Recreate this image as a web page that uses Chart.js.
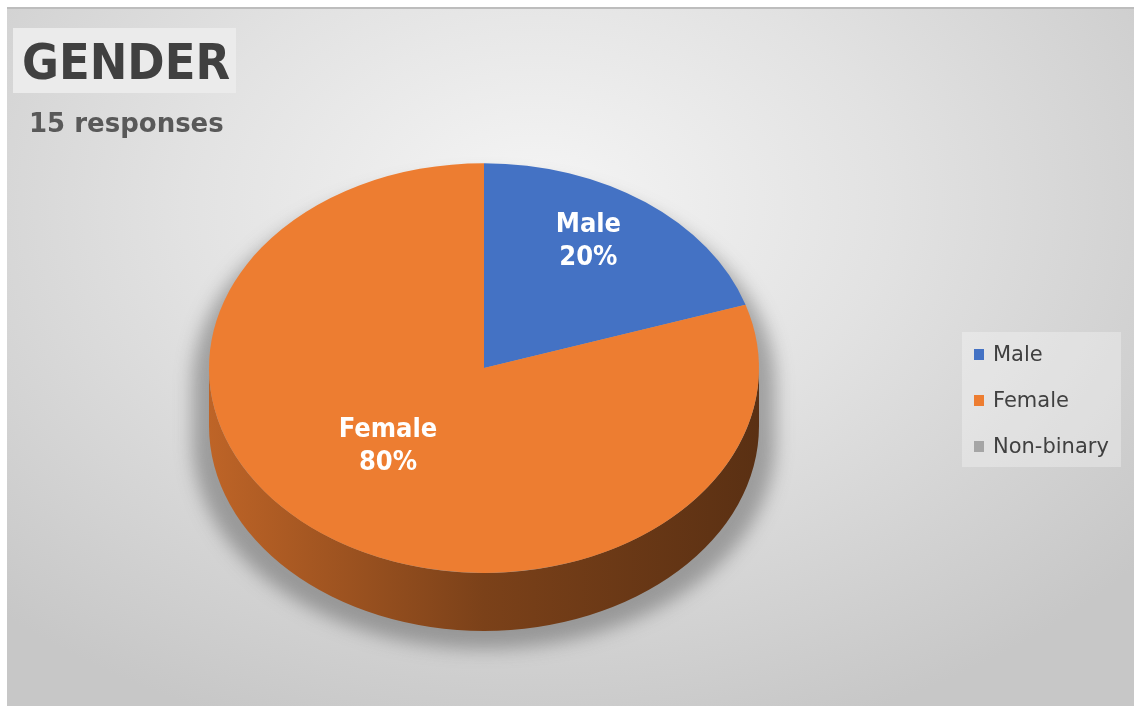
<!DOCTYPE html>
<html>
<head>
<meta charset="utf-8">
<title>Gender</title>
<script src="https://cdn.jsdelivr.net/npm/chart.js@4.4.1/dist/chart.umd.min.js"></script>
<style>
  html, body { margin: 0; padding: 0; background: #fff; }
  body { width: 1134px; height: 707px; position: relative; overflow: hidden; font-family: "DejaVu Sans", sans-serif; }
  .panel {
    position: absolute; left: 7px; top: 7px; width: 1127px; height: 699px;
    box-sizing: border-box; border-top: 2px solid #bdbdbd;
    background: radial-gradient(ellipse 70% 80% at 47% 28%, #f5f5f5 0%, #e2e2e2 45%, #c7c7c7 100%);
  }
  #pie { position: absolute; left: 0; top: 0; }
  .title-box {
    position: absolute; left: 13px; top: 28px; width: 223px; height: 65px;
    background: #ebebeb;
  }
  .title {
    position: absolute; left: 22px; top: 30px; line-height: 65px;
    font-family: "DejaVu Sans Condensed", "DejaVu Sans", sans-serif; font-stretch: condensed;
    font-weight: bold; font-size: 50px; color: #404040; white-space: nowrap;
  }
  .subtitle {
    position: absolute; left: 29px; top: 105px; line-height: 36px;
    font-weight: bold; font-size: 26px; color: #595959; white-space: nowrap;
  }
  .legend {
    position: absolute; left: 962px; top: 332px; width: 159px; height: 135px;
    background: rgba(255, 255, 255, 0.3); box-sizing: border-box; padding-top: 1px;
  }
  .legend-item { position: relative; height: 46px; line-height: 46px; font-size: 21px; color: #404040; white-space: nowrap; }
  .legend-item span { position: absolute; left: 12px; top: 16px; width: 10px; height: 11px; }
  .legend-item b { position: absolute; left: 31px; top: -2px; font-weight: normal; }
</style>
</head>
<body>
<div class="panel"></div>
<canvas id="pie" width="1134" height="707"></canvas>
<div class="title-box"></div>
<div class="title">GENDER</div>
<div class="subtitle">15 responses</div>
<div class="legend" id="legend"></div>

<script>
// survey answers
const labels = ['Male', 'Female', 'Non-binary'];
const counts = [3, 12, 0];
const colors = ['#4472C4', '#ED7D31', '#A5A5A5'];

const TILT = 0.745;   // vertical squash of the pie face
const DEPTH = 58;     // thickness of the pie body

const total = counts.reduce((a, b) => a + b, 0);

function shade(hex, f) {
  const n = parseInt(hex.slice(1), 16);
  const r = Math.round(((n >> 16) & 255) * f);
  const g = Math.round(((n >> 8) & 255) * f);
  const b = Math.round((n & 255) * f);
  return `rgb(${r}, ${g}, ${b})`;
}

// outline of the whole body: top half of the face + front of the bottom rim
function bodyPath(ctx, cx, cy, rx, ry) {
  ctx.beginPath();
  ctx.ellipse(cx, cy, rx, ry, 0, Math.PI, Math.PI * 2);
  ctx.lineTo(cx + rx, cy + DEPTH);
  ctx.ellipse(cx, cy + DEPTH, rx, ry, 0, 0, Math.PI);
  ctx.closePath();
}

const pie3d = {
  id: 'pie3d',
  beforeDatasetsDraw(chart) {
    const ctx = chart.ctx;
    const arcs = chart.getDatasetMeta(0).data;
    const cx = arcs[0].x, cy = arcs[0].y, r = arcs[0].outerRadius;
    const ry = r * TILT;

    // soft drop shadow
    ctx.save();
    ctx.filter = 'blur(9px)';
    ctx.fillStyle = 'rgba(70, 70, 70, 0.42)';
    bodyPath(ctx, cx, cy + 16, r * 1.06, ry * 1.01);
    ctx.fill();
    ctx.restore();

    // front walls, one piece per slice that faces the viewer
    arcs.forEach((arc, i) => {
      if (!counts[i]) return;
      [[0, Math.PI], [Math.PI * 2, Math.PI * 3]].forEach(([lo, hi]) => {
        const a0 = Math.max(arc.startAngle, lo);
        const a1 = Math.min(arc.endAngle, hi);
        if (a1 <= a0) return;
        const g = ctx.createLinearGradient(cx - r, 0, cx + r, 0);
        g.addColorStop(0, shade(colors[i], 0.80));
        g.addColorStop(0.5, shade(colors[i], 0.52));
        g.addColorStop(1, shade(colors[i], 0.38));
        ctx.beginPath();
        ctx.ellipse(cx, cy, r, ry, 0, a0, a1);
        ctx.lineTo(cx + Math.cos(a1) * r, cy + DEPTH + Math.sin(a1) * ry);
        ctx.ellipse(cx, cy + DEPTH, r, ry, 0, a1, a0, true);
        ctx.closePath();
        ctx.fillStyle = g;
        ctx.fill();
      });
    });

    // squash the face into an ellipse while the slices are drawn
    ctx.save();
    ctx.translate(cx, cy);
    ctx.scale(1, TILT);
    ctx.translate(-cx, -cy);
  },
  afterDatasetsDraw(chart) {
    const ctx = chart.ctx;
    ctx.restore();

    const arcs = chart.getDatasetMeta(0).data;
    ctx.save();
    ctx.fillStyle = '#ffffff';
    ctx.font = 'bold 27px "DejaVu Sans Condensed", "DejaVu Sans", sans-serif';
    ctx.textAlign = 'center';
    ctx.textBaseline = 'middle';
    arcs.forEach((arc, i) => {
      if (!counts[i]) return;
      const share = counts[i] / total;
      const mid = (arc.startAngle + arc.endAngle) / 2;
      const f = share < 0.3 ? 0.72 : 0.52;
      const lx = arc.x + Math.cos(mid) * arc.outerRadius * f - 12;
      const ly = arc.y + Math.sin(mid) * arc.outerRadius * f * TILT - 8;
      ctx.fillText(labels[i], lx, ly - 16);
      ctx.fillText(Math.round(share * 100) + '%', lx, ly + 17);
    });
    ctx.restore();
  }
};

new Chart(document.getElementById('pie'), {
  type: 'pie',
  data: {
    labels: labels,
    datasets: [{
      data: counts,
      backgroundColor: colors,
      borderWidth: 0,
      clip: false
    }]
  },
  options: {
    responsive: false,
    animation: false,
    layout: {
      padding: { left: 209, right: 375, top: 93, bottom: 64 }
    },
    plugins: {
      legend: { display: false },
      tooltip: { enabled: false }
    }
  },
  plugins: [pie3d]
});

// legend built from the same series
const legendEl = document.getElementById('legend');
labels.forEach((name, i) => {
  const row = document.createElement('div');
  row.className = 'legend-item';
  const sw = document.createElement('span');
  sw.style.background = colors[i];
  const tx = document.createElement('b');
  tx.textContent = name;
  row.appendChild(sw);
  row.appendChild(tx);
  legendEl.appendChild(row);
});
</script>
</body>
</html>
